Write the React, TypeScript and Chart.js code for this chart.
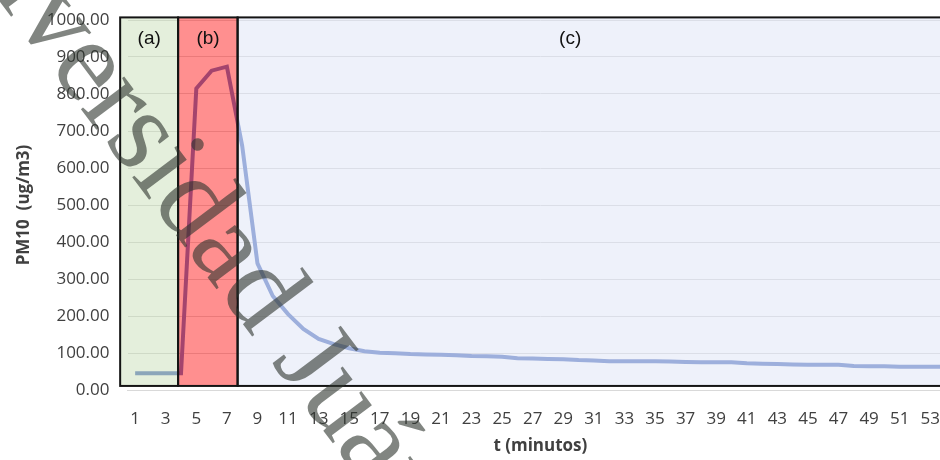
import React, { useEffect, useRef } from 'react';
import { Chart, registerables } from 'chart.js';

Chart.register(...registerables);

// ---- data ----
const minutes = [
  1, 2, 3, 4, 5, 6, 7, 8, 9, 10, 11, 12, 13, 14, 15, 16, 17, 18, 19, 20,
  21, 22, 23, 24, 25, 26, 27, 28, 29, 30, 31, 32, 33, 34, 35, 36, 37, 38, 39, 40,
  41, 42, 43, 44, 45, 46, 47, 48, 49, 50, 51, 52, 53, 54,
];
const pm10 = [
  45, 45, 45, 45, 815, 863, 874, 660, 342, 254, 205, 165, 138, 124, 113, 105, 101, 99, 97, 96,
  95, 94, 92, 91, 90, 86, 85, 84, 83, 81, 80, 78, 78, 78, 78, 77, 76, 75, 75, 75,
  72, 71, 70, 69, 68, 68, 68, 65, 64, 64, 63, 63, 63, 63,
];
const yTickValues = [0, 100, 200, 300, 400, 500, 600, 700, 800, 900, 1000];

// phases of the test (in category index units)
const phaseLabels = ['(a)', '(b)', '(c)'];
const phaseStart = [-0.98, 2.81, 6.7];
const phaseEnd = [2.81, 6.7, 70];
const phaseLabelAt = [0.92, 4.77, 28.45];

const watermarkText = 'Universidad Juárez del Estado de Durango';

// ---- styles ----
const phaseFills = ['rgba(195,219,177,0.45)', 'rgba(255,0,0,0.44)', 'rgba(221,227,245,0.5)'];
const LINE_COLOR = 'rgb(93,122,194)';
const TEXT_COLOR = '#404040';
const FONT = '"Open Sans", "DejaVu Sans", sans-serif';
const WM_FONT = '118px "Liberation Serif", "DejaVu Serif", serif';
const LABEL_FONT = '19px "Liberation Sans", Arial, sans-serif';

const phasePlugin = {
  id: 'phases',
  afterDatasetsDraw(chart: any) {
    const { ctx, scales } = chart;
    const x = scales.x;
    const y = scales.y;
    const top = y.getPixelForValue(1007);
    const bottom = y.getPixelForValue(11);
    ctx.save();
    for (let i = 0; i < phaseLabels.length; i++) {
      const x0 = x.getPixelForValue(phaseStart[i]);
      const x1 = x.getPixelForValue(phaseEnd[i]);
      ctx.fillStyle = phaseFills[i];
      ctx.fillRect(x0, top, x1 - x0, bottom - top);
    }
    ctx.strokeStyle = '#141414';
    ctx.lineWidth = 2;
    for (let i = 0; i < phaseLabels.length; i++) {
      const x0 = x.getPixelForValue(phaseStart[i]);
      const x1 = x.getPixelForValue(phaseEnd[i]);
      ctx.strokeRect(x0, top, x1 - x0, bottom - top);
    }
    ctx.fillStyle = '#111';
    ctx.font = LABEL_FONT;
    ctx.textAlign = 'center';
    ctx.textBaseline = 'middle';
    for (let i = 0; i < phaseLabels.length; i++) {
      ctx.fillText(phaseLabels[i], x.getPixelForValue(phaseLabelAt[i]), y.getPixelForValue(950));
    }
    ctx.restore();
  },
  afterDraw(chart: any) {
    const { ctx } = chart;
    ctx.save();
    ctx.translate(-94, -123);
    ctx.rotate((53 * Math.PI) / 180);
    ctx.font = WM_FONT;
    ctx.fillStyle = 'rgba(45,52,45,0.6)';
    ctx.textAlign = 'left';
    ctx.textBaseline = 'alphabetic';
    ctx.fillText(watermarkText, 0, 0);
    ctx.restore();
  },
};

export default function App() {
  const ref = useRef<HTMLCanvasElement | null>(null);

  useEffect(() => {
    let chart: Chart | null = null;
    let cancelled = false;
    const fontsReady = Promise.all([
      document.fonts.load('17px "Open Sans"'),
      document.fonts.load('bold 17px "Open Sans"'),
      document.fonts.load(WM_FONT),
      document.fonts.load(LABEL_FONT),
    ]).catch(() => null);

    fontsReady.then(() => {
      if (cancelled || !ref.current) return;
      chart = new Chart(ref.current, {
        type: 'line',
        data: {
          labels: minutes.map(String),
          datasets: [
            {
              data: pm10,
              borderColor: LINE_COLOR,
              borderWidth: 4,
              pointRadius: 0,
              tension: 0,
              fill: false,
            },
          ],
        },
        options: {
          animation: false,
          responsive: false,
          maintainAspectRatio: false,
          devicePixelRatio: 1,
          layout: { padding: { top: 20, right: 6.8, bottom: 0, left: 0 } },
          plugins: { legend: { display: false }, tooltip: { enabled: false } },
          scales: {
            x: {
              offset: true,
              grid: { display: false, drawTicks: false },
              border: { display: true, color: '#d9d9d9', width: 1 },
              ticks: {
                autoSkip: false,
                maxRotation: 0,
                padding: 19,
                color: TEXT_COLOR,
                font: { family: FONT, size: 17 },
                callback: (_v: any, i: number) => (i % 2 === 0 ? String(minutes[i]) : ''),
              },
              title: {
                display: true,
                text: 't (minutos)',
                color: TEXT_COLOR,
                font: { family: FONT, size: 17, weight: 'bold' },
                padding: { top: 4, bottom: 4 },
              },
              afterFit: (s: any) => {
                s.height = 70;
                s.paddingLeft = 0;
                s.paddingRight = 0;
              },
            },
            y: {
              min: 0,
              max: 1000,
              afterBuildTicks: (s: any) => {
                s.ticks = yTickValues.map((v) => ({ value: v }));
              },
              grid: { color: '#d9d9d9', lineWidth: 1, drawTicks: false },
              border: { display: false },
              ticks: {
                padding: 18,
                color: TEXT_COLOR,
                font: { family: FONT, size: 17 },
                callback: (v: any) => Number(v).toFixed(2),
              },
              title: {
                display: true,
                text: 'PM10  (ug/m3)',
                color: TEXT_COLOR,
                font: { family: FONT, size: 17, weight: 'bold' },
                padding: { top: 14, bottom: 4 },
              },
              afterFit: (s: any) => {
                s.width = 127.5;
                s.paddingTop = 0;
                s.paddingBottom = 0;
              },
            },
          },
        },
        plugins: [phasePlugin],
      });
    });
    return () => {
      cancelled = true;
      if (chart) chart.destroy();
    };
  }, []);

  return (
    <div
      style={{
        position: 'fixed',
        left: 0,
        top: 0,
        width: 940,
        height: 460,
        overflow: 'hidden',
        background: '#fff',
      }}
    >
      <canvas ref={ref} width={960} height={460} style={{ display: 'block' }} />
    </div>
  );
}
